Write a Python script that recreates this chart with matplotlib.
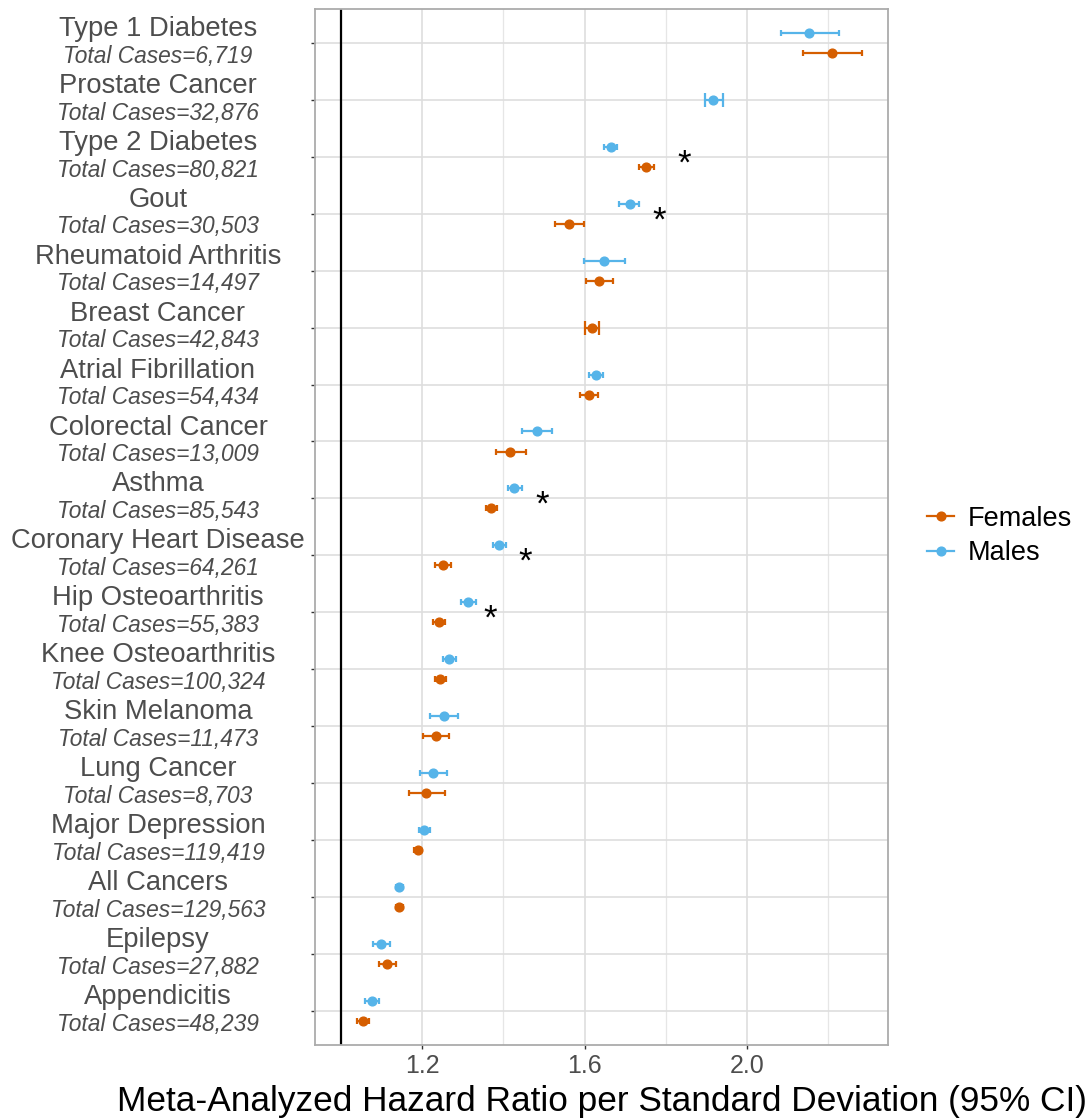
import matplotlib
matplotlib.use("Agg")
import matplotlib.pyplot as plt
import numpy as np
from matplotlib.lines import Line2D

plt.rcParams['font.family'] = ['Liberation Sans', 'DejaVu Sans']

# rows top to bottom
diseases = ["Type 1 Diabetes", "Prostate Cancer", "Type 2 Diabetes", "Gout",
            "Rheumatoid Arthritis", "Breast Cancer", "Atrial Fibrillation",
            "Colorectal Cancer", "Asthma", "Coronary Heart Disease",
            "Hip Osteoarthritis", "Knee Osteoarthritis", "Skin Melanoma",
            "Lung Cancer", "Major Depression", "All Cancers", "Epilepsy",
            "Appendicitis"]
total_cases = ["6,719", "32,876", "80,821", "30,503", "14,497", "42,843",
               "54,434", "13,009", "85,543", "64,261", "55,383", "100,324",
               "11,473", "8,703", "119,419", "129,563", "27,882", "48,239"]

male_hr = [2.153, 1.916, 1.664, 1.711, 1.648, np.nan, 1.627, 1.482, 1.426,
           1.390, 1.313, 1.266, 1.253, 1.227, 1.204, 1.142, 1.099, 1.075]
male_lo = [2.085, 1.897, 1.647, 1.686, 1.598, np.nan, 1.611, 1.446, 1.410,
           1.374, 1.294, 1.250, 1.219, 1.193, 1.191, 1.134, 1.079, 1.059]
male_hi = [2.227, 1.940, 1.680, 1.735, 1.700, np.nan, 1.646, 1.519, 1.445,
           1.406, 1.333, 1.282, 1.288, 1.261, 1.218, 1.151, 1.119, 1.092]

female_hr = [2.210, np.nan, 1.752, 1.561, 1.636, 1.618, 1.610, 1.417, 1.370,
             1.250, 1.240, 1.244, 1.233, 1.210, 1.188, 1.142, 1.114, 1.053]
female_lo = [2.138, np.nan, 1.733, 1.528, 1.604, 1.602, 1.589, 1.381, 1.356,
             1.231, 1.225, 1.231, 1.202, 1.167, 1.179, 1.134, 1.094, 1.040]
female_hi = [2.284, np.nan, 1.770, 1.598, 1.669, 1.635, 1.632, 1.456, 1.384,
             1.270, 1.256, 1.258, 1.266, 1.256, 1.197, 1.151, 1.135, 1.069]

# significant sex difference markers
star_rows = ["Type 2 Diabetes", "Gout", "Asthma", "Coronary Heart Disease",
             "Hip Osteoarthritis"]
star_x = [1.846, 1.784, 1.496, 1.454, 1.366]

FEMALE = "#D55E00"
MALE = "#56B4E9"
GREY30 = "#4D4D4D"
W, H = 1090, 1118

fig = plt.figure(figsize=(W / 100, H / 100), dpi=100)
ax = fig.add_axes([315.3 / W, 1 - 1045 / H, (888 - 315.3) / W, (1045 - 8.8) / H])

y = np.arange(len(diseases))
m, mlo, mhi = (np.array(a, float) for a in (male_hr, male_lo, male_hi))
f, flo, fhi = (np.array(a, float) for a in (female_hr, female_lo, female_hi))
both = ~np.isnan(m) & ~np.isnan(f)
dodge = 0.176

for hr, lo, hi, sign, col in [(m, mlo, mhi, -1, MALE), (f, flo, fhi, 1, FEMALE)]:
    ok = ~np.isnan(hr)
    pos = y + sign * dodge * both
    # single-sex rows get full-width caps, like ggplot's dodge
    for sel, cap in [(ok & both, 2.5), (ok & ~both, 5.0)]:
        ax.errorbar(hr[sel], pos[sel], xerr=[hr[sel] - lo[sel], hi[sel] - hr[sel]],
                    fmt="o", color=col, ms=6.3, elinewidth=1.6, capsize=cap,
                    capthick=1.6, zorder=3)

ax.axvline(1.0, color="black", lw=1.6, zorder=2)

for name, sx in zip(star_rows, star_x):
    ax.annotate("*", xy=(sx, diseases.index(name)), xytext=(0, -5),
                textcoords="offset points", fontsize=25, ha="center",
                va="center", color="black", zorder=4)

ax.set_xlim(0.936, 2.348)
ax.set_ylim(len(diseases) - 0.4, -0.6)
ax.set_xticks([1.2, 1.6, 2.0])
ax.set_xticklabels(["1.2", "1.6", "2.0"])
ax.set_xticks([1.0, 1.4, 1.8, 2.2], minor=True)
ax.set_yticks(y)
ax.set_yticklabels([])
ax.grid(True, which="major", color="#DEDEDE", lw=1.2, zorder=0)
ax.grid(True, which="minor", axis="x", color="#E6E6E6", lw=0.9, zorder=0)
ax.set_axisbelow(True)
ax.tick_params(axis="both", which="major", length=3, width=1, color="#333333",
               labelsize=18, labelcolor=GREY30)
ax.tick_params(axis="x", which="minor", length=0)
for s in ax.spines.values():
    s.set_color("#ABABAB")
    s.set_linewidth(1.3)

for i, (name, n) in enumerate(zip(diseases, total_cases)):
    ax.annotate(name, xy=(158 / W, i), xycoords=(fig.transFigure, ax.transData),
                xytext=(0, 5), textcoords="offset points", ha="center",
                va="baseline", fontsize=19.7, color=GREY30, annotation_clip=False)
    ax.annotate(f"Total Cases={n}", xy=(158 / W, i),
                xycoords=(fig.transFigure, ax.transData), xytext=(0, -14.2),
                textcoords="offset points", ha="center", va="baseline",
                fontsize=16.4, style="italic", color=GREY30, annotation_clip=False)

ax.set_xlabel("Meta-Analyzed Hazard Ratio per Standard Deviation (95% CI)",
              fontsize=25.4, color="black", labelpad=5)

handles = [Line2D([], [], color=FEMALE, marker="o", ms=6.3, lw=1.6),
           Line2D([], [], color=MALE, marker="o", ms=6.3, lw=1.6)]
fig.legend(handles, ["Females", "Males"], loc="center left",
           bbox_to_anchor=(903 / W, 1 - 536 / H), frameon=False, fontsize=19.5,
           handlelength=1.0, handletextpad=0.5, labelspacing=0.3)

fig.savefig("out.png", dpi=100)
